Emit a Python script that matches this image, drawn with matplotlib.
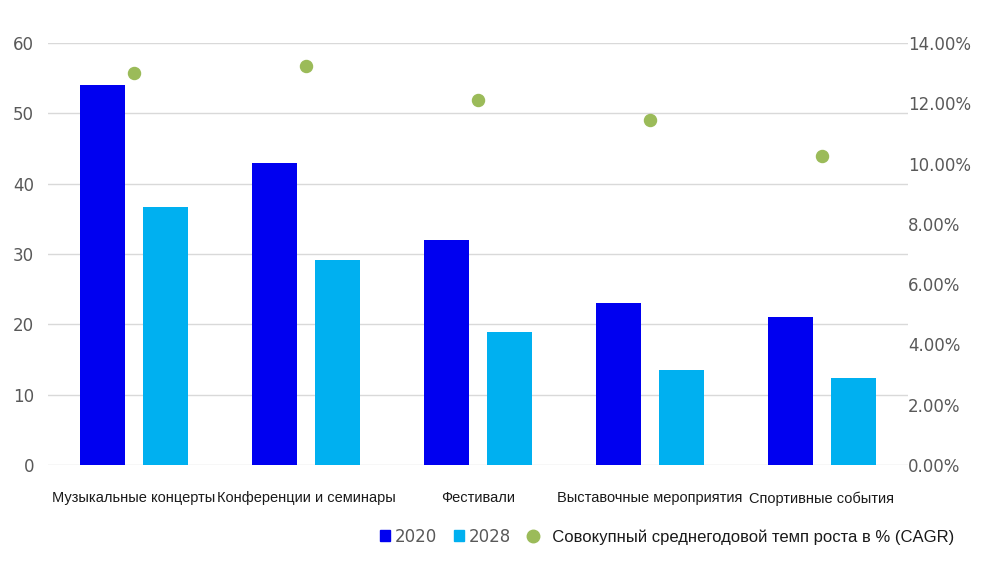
import matplotlib
matplotlib.use("Agg")
import matplotlib.pyplot as plt
import numpy as np
from matplotlib.lines import Line2D
from matplotlib.patches import Patch
from matplotlib.ticker import FuncFormatter

categories = ["Музыкальные концерты", "Конференции и семинары", "Фестивали",
              "Выставочные мероприятия", "Спортивные события"]
v2020 = [54, 43, 32, 23, 21]
v2028 = [36.7, 29.2, 18.9, 13.5, 12.4]
cagr = [13.0, 13.24, 12.11, 11.45, 10.25]   # %

narrow = ["Liberation Sans", "DejaVu Sans"]
grey = "#595959"

fig = plt.figure(figsize=(9.91, 5.69), dpi=100)
ax = fig.add_axes([0.0484, 0.1828, 0.8678, 0.7416])
x = np.arange(len(categories))
w = 0.262
ax.bar(x - 0.183, v2020, w, color="#0000f0", zorder=2)
ax.bar(x + 0.183, v2028, w, color="#00b0f0", zorder=2)
ax.set_xlim(-0.5, len(categories) - 0.5)
ax.set_ylim(0, 60)
ax.set_yticks(range(0, 61, 10))
ax.grid(axis="y", color="#d9d9d9", linewidth=1.0, zorder=0)
for s in ax.spines.values():
    s.set_visible(False)
ax.tick_params(axis="y", length=0, pad=10, labelsize=12, labelcolor=grey)
ax.tick_params(axis="x", length=0, pad=19)
ax.set_xticks(x)
ax.set_xticklabels(categories, fontsize=10.5, family=narrow, color="#1a1a1a")

ax2 = ax.twinx()
ax2.scatter(x, cagr, s=75, color="#9bbb59", zorder=3)
ax2.set_ylim(0, 14)
ax2.set_yticks(range(0, 15, 2))
ax2.yaxis.set_major_formatter(FuncFormatter(lambda v, p: f"{v:.2f}%"))
ax2.tick_params(axis="y", length=0, pad=0, labelsize=12, labelcolor=grey)
for s in ax2.spines.values():
    s.set_visible(False)

handles = [Patch(color="#0000f0"), Patch(color="#00b0f0"),
           Line2D([], [], marker="o", linestyle="", color="#9bbb59", markersize=9)]
labels = ["2020", "2028", "  Совокупный среднегодовой темп роста в % (CAGR)"]
leg = fig.legend(handles, labels, loc="center right", bbox_to_anchor=(0.978, 0.057),
                 ncol=3, frameon=False, fontsize=12, handlelength=0.6, handleheight=0.6,
                 handletextpad=0.3, columnspacing=1.0)
texts = leg.get_texts()
for t in texts[:2]:
    t.set_color(grey)
texts[2].set_family(narrow)
texts[2].set_fontsize(12)
texts[2].set_color("#1a1a1a")

fig.savefig("out.png", dpi=100)
